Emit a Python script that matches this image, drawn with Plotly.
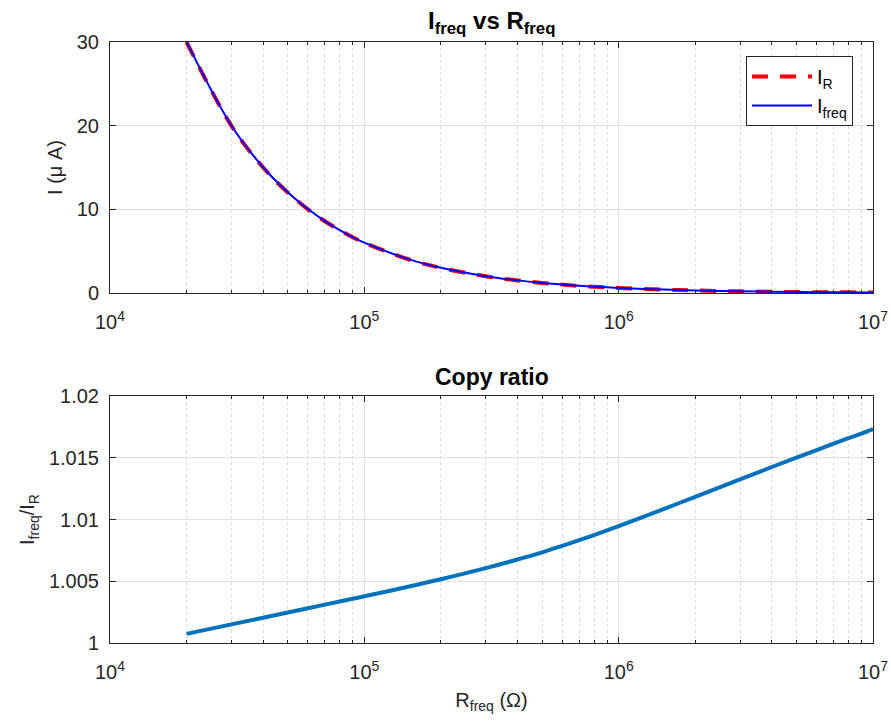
import plotly.graph_objects as go

# ---- data ----
R_ohm = [2e4, 3e4, 4e4, 5e4, 6e4, 7e4, 8e4, 9e4, 1e5, 1.5e5, 2e5, 3e5, 4e5, 5e5,
         6e5, 7e5, 8e5, 9e5, 1e6, 1.5e6, 2e6, 3e6, 4e6, 5e6, 6e6, 7e6, 8e6, 9e6, 1e7]
I_R_uA = [30, 20, 15, 12, 10, 8.571, 7.5, 6.667, 6, 4, 3, 2, 1.5, 1.2,
          1.0, 0.857, 0.75, 0.667, 0.6, 0.4, 0.3, 0.2, 0.15, 0.12, 0.1, 0.0857, 0.075,
          0.0667, 0.06]
I_freq_uA = [30.02, 20.03, 15.03, 12.03, 10.03, 8.598, 7.525, 6.691, 6.023, 4.018,
             3.015, 2.012, 1.510, 1.209, 1.008, 0.864, 0.757, 0.673, 0.606, 0.404,
             0.304, 0.203, 0.152, 0.122, 0.102, 0.087, 0.076, 0.068, 0.061]
ratio = [1.00074, 1.00151, 1.00205, 1.00247, 1.00282, 1.00311, 1.00336, 1.00358, 1.00378,
         1.00457, 1.00516, 1.00606, 1.00676, 1.00734, 1.00787, 1.00833, 1.00874, 1.00912,
         1.00947, 1.01084, 1.01184, 1.01325, 1.01425, 1.01501, 1.01562, 1.01614, 1.01658,
         1.01695, 1.01731]

x_major = [1e4, 1e5, 1e6, 1e7]
x_major_text = ["10<sup>4</sup>", "10<sup>5</sup>", "10<sup>6</sup>", "10<sup>7</sup>"]
x_minor = [m * 10 ** d for d in (4, 5, 6) for m in range(2, 10)]
y1_ticks = [0, 10, 20, 30]
y2_ticks = [1, 1.005, 1.01, 1.015, 1.02]
y2_text = ["1", "1.005", "1.01", "1.015", "1.02"]

FONT = "Liberation Sans, Arial, sans-serif"
TXT = "#262626"
AX = "#262626"
GRID = "#dfdfdf"
FS = 20

W, H = 891, 726
xd = [110 / W, 873 / W]
y1d = [(H - 293) / H, (H - 42) / H]
y2d = [(H - 643) / H, (H - 396) / H]

fig = go.Figure()
fig.add_trace(go.Scatter(x=R_ohm, y=I_R_uA, mode="lines", name="I<sub>R</sub>",
                         line=dict(color="#ff0000", width=4, dash="16px,12px", shape="spline"),
                         xaxis="x", yaxis="y"))
fig.add_trace(go.Scatter(x=R_ohm, y=I_freq_uA, mode="lines", name="I<sub>freq</sub>",
                         line=dict(color="#0000ff", width=2, shape="spline"),
                         xaxis="x", yaxis="y"))
fig.add_trace(go.Scatter(x=R_ohm, y=ratio, mode="lines", showlegend=False,
                         line=dict(color="#0072BD", width=4, shape="spline"),
                         xaxis="x2", yaxis="y2"))

def xaxis(anchor, title=None):
    d = dict(type="log", range=[4, 7], domain=xd, anchor=anchor, automargin=False,
             tickmode="array", tickvals=x_major, ticktext=x_major_text,
             ticks="inside", ticklen=6, tickcolor=AX, ticklabelstandoff=11,
             showline=True, linecolor=AX, linewidth=1, mirror="ticks",
             showgrid=True, gridcolor=GRID, gridwidth=1,
             zeroline=False,
             tickfont=dict(family=FONT, size=FS, color=TXT),
             minor=dict(tickmode="array", tickvals=x_minor, ticks="inside", ticklen=3,
                        tickcolor=AX, showgrid=True, gridcolor="#dcdcdc", griddash="dot",
                        gridwidth=1))
    if title:
        d["title"] = dict(text=title, font=dict(family=FONT, size=FS, color=TXT), standoff=10)
    return d

def yaxis(anchor, dom, rng, tv, tt, title):
    return dict(range=rng, domain=dom, anchor=anchor, automargin=False,
                tickmode="array", tickvals=tv, ticktext=tt,
                ticks="inside", ticklen=6, tickcolor=AX, ticklabelstandoff=6,
                showline=True, linecolor=AX, linewidth=1, mirror="ticks",
                showgrid=True, gridcolor=GRID, gridwidth=1, zeroline=False,
                tickfont=dict(family=FONT, size=FS, color=TXT),
                title=dict(text=title, font=dict(family=FONT, size=FS, color=TXT), standoff=8))

fig.update_layout(
    width=W, height=H,
    margin=dict(l=0, r=0, t=0, b=0),
    paper_bgcolor="white", plot_bgcolor="white",
    xaxis=xaxis("y"),
    yaxis=yaxis("x", y1d, [0, 30], y1_ticks, [str(v) for v in y1_ticks], "I (μ A)"),
    xaxis2=xaxis("y2", "R<sub>freq</sub> (Ω)"),
    yaxis2=yaxis("x2", y2d, [1, 1.02], y2_ticks, y2_text, "I<sub>freq</sub>/I<sub>R</sub>"),
    showlegend=True,
    legend=dict(x=853 / W, y=(H - 56) / H, xanchor="right", yanchor="top",
                bgcolor="white", bordercolor=AX, borderwidth=1,
                font=dict(family=FONT, size=FS, color="#000000"),
                itemwidth=60, tracegroupgap=4),
    annotations=[
        dict(text="<b>I<sub>freq</sub> vs R<sub>freq</sub></b>", x=(xd[0] + xd[1]) / 2,
             y=(H - 40) / H, xref="paper", yref="paper", xanchor="center", yanchor="bottom",
             showarrow=False, font=dict(family=FONT, size=24, color="#000000")),
        dict(text="<b>Copy ratio</b>", x=(xd[0] + xd[1]) / 2,
             y=(H - 392) / H, xref="paper", yref="paper", xanchor="center", yanchor="bottom",
             showarrow=False, font=dict(family=FONT, size=23, color="#000000")),
    ],
)

fig.write_html("out.html")
